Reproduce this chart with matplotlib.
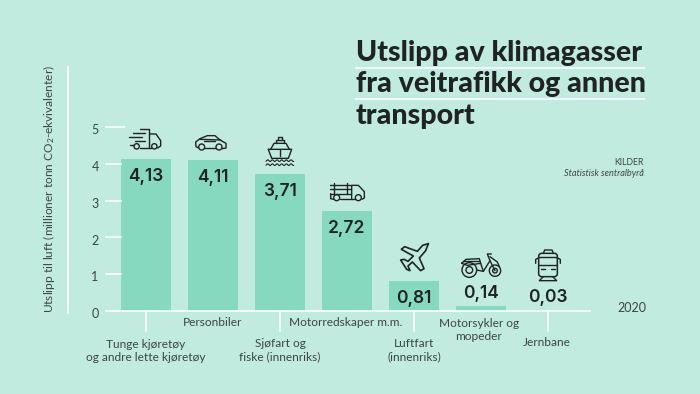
import numpy as np
import matplotlib
matplotlib.use("Agg")
import matplotlib.pyplot as plt
from matplotlib.patches import Circle, FancyBboxPatch

# Chart data
categories = ["Tunge kjøretøy\nog andre lette kjøretøy", "Personbiler", "Sjøfart og\nfiske (innenriks)",
              "Motorredskaper m.m.", "Luftfart\n(innenriks)", "Motorsykler og\nmopeder", "Jernbane"]
values = [4.13, 4.11, 3.71, 2.72, 0.81, 0.14, 0.03]
value_labels = ["4,13", "4,11", "3,71", "2,72", "0,81", "0,14", "0,03"]
y_ticks = [0, 1, 2, 3, 4, 5]

# Label centres in pixels, they sit on two rows and don't quite follow the bars
label_x = [146, 213, 280, 346, 414, 479, 547]
label_y = [351, 323, 350, 323, 350, 330, 343]

BG = "#c1ebdf"
BAR = "#86d9bf"
DARK = "#1f2323"
GREY = "#3c4645"
WHITE = "#f7fbf9"

plt.rcParams["font.family"] = ["Lato", "DejaVu Sans"]
plt.rcParams["mathtext.default"] = "regular"

fig = plt.figure(figsize=(7, 3.94), dpi=100, facecolor=BG)

# Data axes cover the whole figure, scaled so 0 is at y=311 and bars step 67px
ax = fig.add_axes([0, 0, 1, 1])
ax.set_facecolor("none")
ax.set_xlim(-146 / 67, (700 - 146) / 67)
ax.set_ylim((311 - 394) / 36.8, 311 / 36.8)
ax.axis("off")

x = np.arange(len(values))
ax.bar(x, values, width=50 / 67, color=BAR, zorder=2)

# Overlay in pixels for rules and icons
px = fig.add_axes([0, 0, 1, 1])
px.set_xlim(0, 700)
px.set_ylim(394, 0)
px.axis("off")
px.set_facecolor("none")

# Axis rules
px.plot([68, 68], [67, 313], color=WHITE, lw=1.3, zorder=1)
px.plot([106, 590], [311, 311], color=WHITE, lw=1.3, zorder=1)
for t in y_ticks:
    yy = 311 - t * 36.8
    if t > 0:
        px.plot([106, 121 if t < 5 else 124], [yy, yy], color=WHITE, lw=1.3, zorder=1)
    ax.text(-51 / 67, t - 3.2 / 36.8, str(t), ha="center", va="center", fontsize=9, color=GREY)
for xx in [146, 280, 414, 548]:
    px.plot([xx, xx], [311, 331], color=WHITE, lw=1.3, zorder=1)

# Value labels, inside the bar when there is room
for i, (v, s) in enumerate(zip(values, value_labels)):
    if v > 0.5:
        yy = v - 17.5 / 36.8
    else:
        yy = v + 12 / 36.8
    ax.text(i, yy, s, ha="center", va="center", fontsize=12.5, fontweight=600, color=DARK, zorder=3,
            family=["Inter", "DejaVu Sans"])

# Category labels
for name, lx, ly in zip(categories, label_x, label_y):
    px.text(lx, ly, name, ha="center", va="center", fontsize=8.6, color=GREY, linespacing=1.3)

px.text(632, 308, "2020", ha="center", va="center", fontsize=9, color=GREY)
px.text(49, 189, "Utslipp til luft (millioner tonn CO$_2$-ekvivalenter)", rotation=90,
        ha="center", va="center", fontsize=8.6, color=GREY)

# Title with white rules
title_lines = ["Utslipp av klimagasser", "fra veitrafikk og annen", "transport"]
for i, line_text in enumerate(title_lines):
    px.text(356, 60.5 + i * 31.7, line_text, ha="left", va="baseline", fontsize=20.6, fontweight="black", color=DARK)
px.plot([356, 644], [67.5, 67.5], color=WHITE, lw=1.3)
px.plot([356, 644], [99, 99], color=WHITE, lw=1.3)

px.text(644, 162, "KILDER", ha="right", va="center", fontsize=6.3, color=GREY)
px.text(644, 173, "Statistisk sentralbyrå", ha="right", va="center", fontsize=6.6, style="italic", color=GREY)


def line(pts, ox, oy, lw=1.0):
    pts = np.array(pts, dtype=float)
    px.plot(ox + pts[:, 0] / 3, oy + pts[:, 1] / 3, color=DARK, lw=lw, solid_capstyle="round",
            solid_joinstyle="round", zorder=4)


def ring(cx, cy, r, ox, oy, lw=1.0):
    px.add_patch(Circle((ox + cx / 3, oy + cy / 3), r / 3, fill=False, ec=DARK, lw=lw, zorder=4))


# Delivery truck
o = (120, 120)
line([(60, 27), (88, 27), (88, 85)], *o)
line([(90, 42), (108, 42), (122, 62), (122, 78), (113, 84)], *o)
line([(60, 84), (93, 84)], *o)
line([(38, 40), (75, 40)], *o)
line([(28, 50), (65, 50)], *o)
line([(45, 62), (75, 62)], *o)
line([(30, 75), (42, 75)], *o)
ring(50, 79, 8, *o)
ring(103, 79, 8, *o)

# Car
line([(236, 84), (228, 80), (227, 66), (240, 56), (262, 47), (285, 47), (300, 60), (318, 70), (318, 84), (306, 86)], *o)
line([(254, 84), (288, 84)], *o)
line([(240, 58), (302, 60)], *o)
line([(252, 64), (285, 64)], *o)
ring(245, 81, 9, *o)
ring(297, 81, 9, *o)

# Ship
line([(445, 88), (515, 88), (505, 115), (455, 115), (445, 88)], *o)
line([(452, 88), (462, 70), (498, 70), (508, 88)], *o)
line([(468, 70), (468, 60), (492, 60), (492, 70)], *o)
line([(473, 60), (473, 52), (487, 52), (487, 60)], *o)
line([(480, 88), (480, 108)], *o)
wave_x = np.linspace(438, 521, 60)
for wave_y in [122, 134]:
    line(np.column_stack([wave_x, wave_y + 2.5 * np.sin(wave_x * 0.45)]), *o, lw=0.8)

# Flatbed truck
line([(630, 196), (692, 196)], *o)
line([(630, 208), (692, 208)], *o)
line([(630, 221), (692, 221)], *o)
line([(641, 190), (641, 221)], *o)
line([(680, 190), (680, 221)], *o)
line([(695, 236), (695, 196), (715, 196), (733, 215), (733, 234), (726, 238)], *o)
line([(660, 237), (704, 237)], *o)
line([(632, 221), (632, 236), (640, 238)], *o)
ring(650, 233, 9, *o)
ring(715, 233, 9, *o)

# Plane
o = (380, 230)
line([(145, 41), (137, 62), (118, 84), (132, 116), (122, 122), (97, 96), (84, 108), (90, 122), (80, 118),
      (62, 90), (72, 88), (84, 94), (100, 78), (64, 58), (74, 50), (112, 64), (128, 46), (145, 41)], *o, lw=1.2)

# Moped
ring(268, 120, 22, *o)
ring(268, 120, 10, *o)
ring(345, 122, 17, *o)
ring(345, 122, 7, *o)
line([(245, 100), (258, 88), (298, 86), (302, 100), (262, 106), (245, 100)], *o)
line([(250, 92), (296, 92)], *o)
line([(290, 120), (310, 124), (330, 92), (345, 122)], *o)
line([(302, 100), (310, 124)], *o)
line([(330, 92), (322, 72), (334, 72)], *o)
line([(330, 80), (352, 96), (358, 110)], *o)

# Tram
px.add_patch(FancyBboxPatch((380 + 476 / 3, 230 + 70 / 3), 56 / 3, 70 / 3, boxstyle="round,pad=0,rounding_size=3",
                            fill=False, ec=DARK, lw=1.1, zorder=4))
line([(476, 106), (532, 106)], *o)
line([(476, 82), (532, 82)], *o)
line([(490, 70), (494, 60), (516, 60), (520, 70)], *o)
line([(476, 84), (467, 88), (467, 100)], *o)
line([(532, 84), (541, 88), (541, 100)], *o)
line([(484, 118), (494, 118)], *o)
line([(514, 118), (524, 118)], *o)
line([(490, 140), (478, 152), (530, 152), (518, 140)], *o)

fig.savefig("out.png", dpi=100, facecolor=BG)
